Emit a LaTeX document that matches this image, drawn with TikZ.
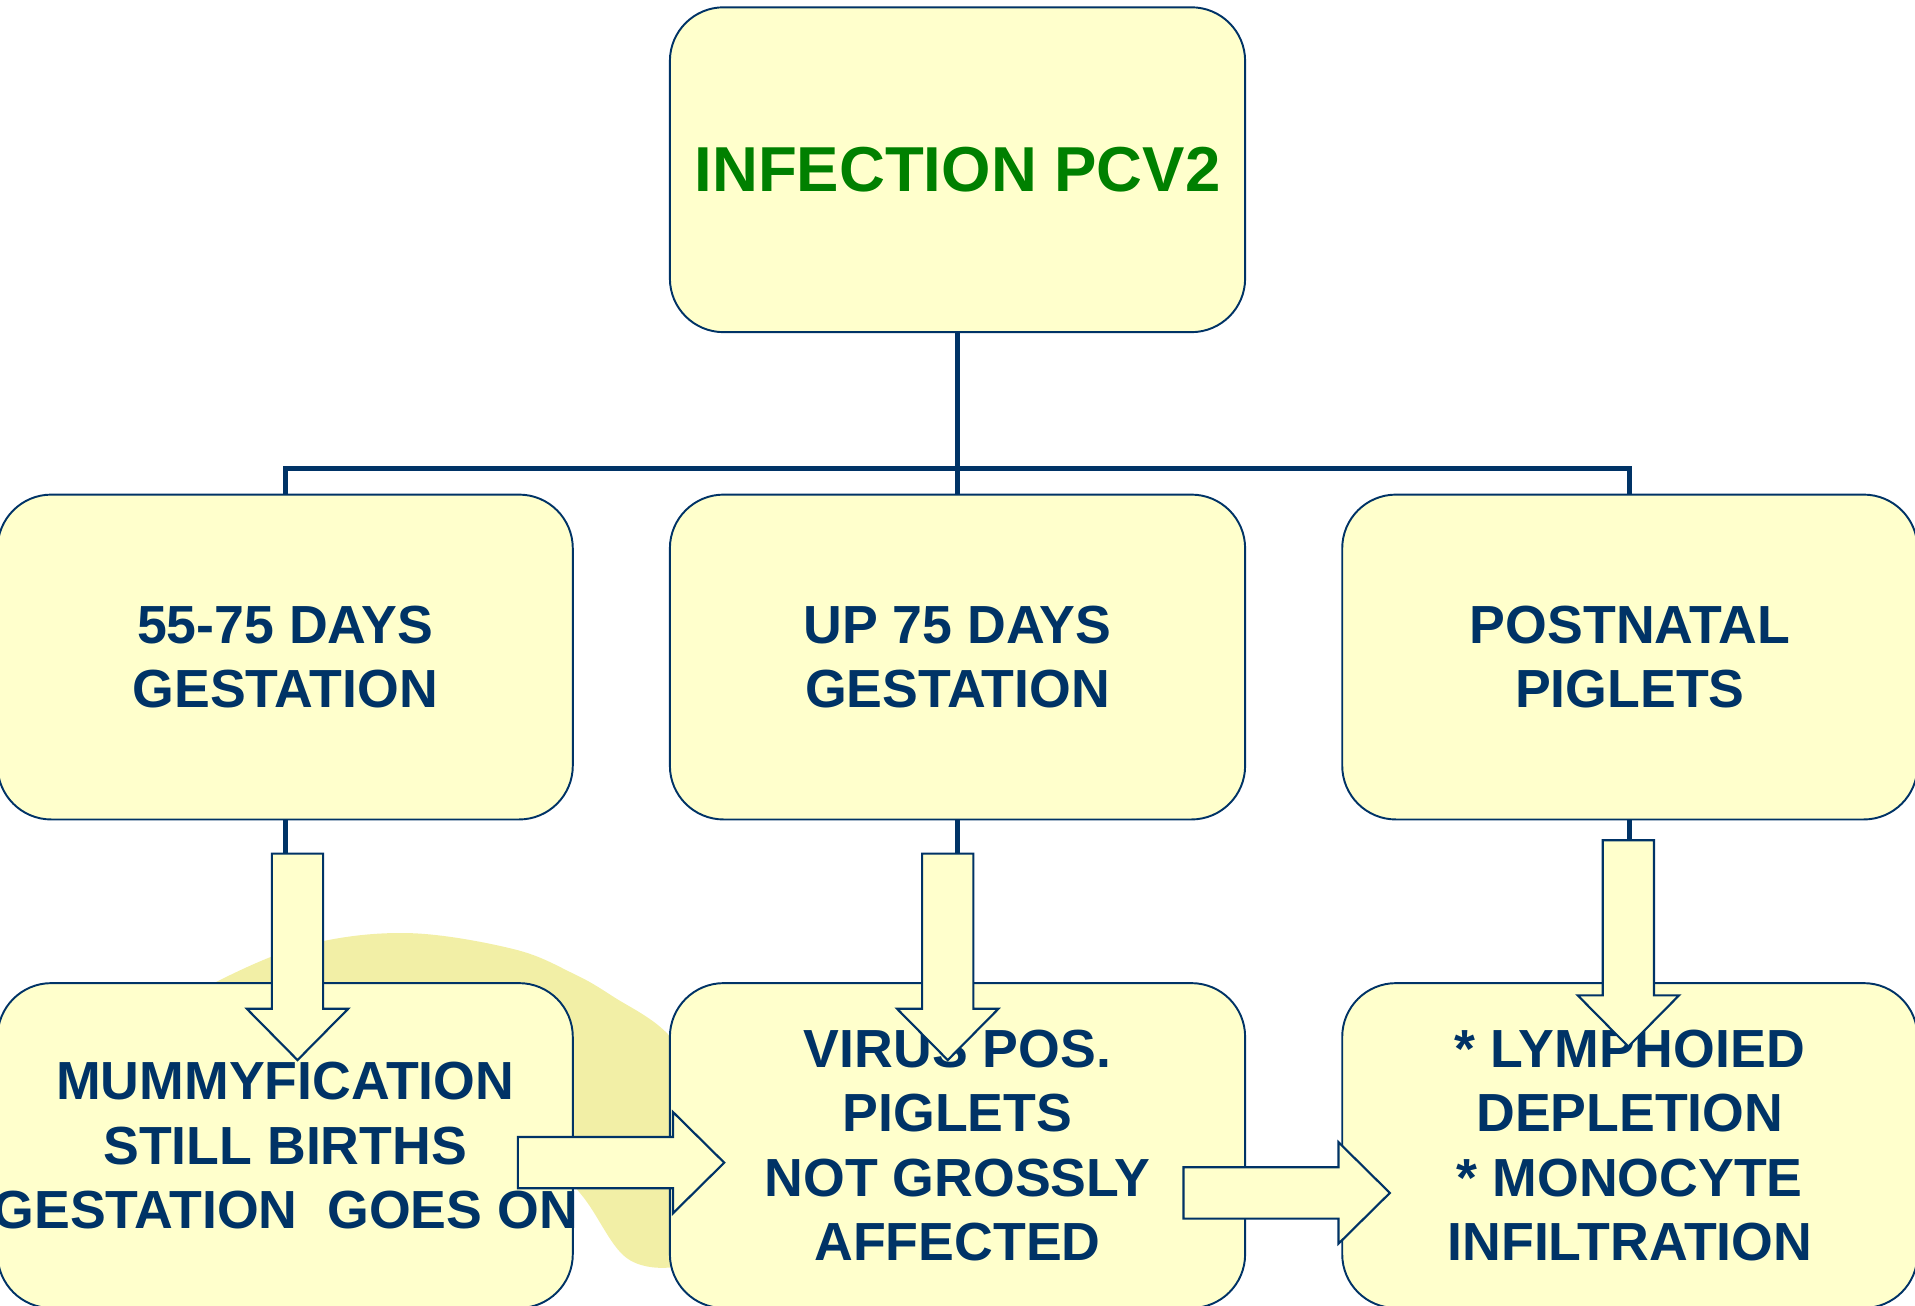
\documentclass[tikz,border=0pt]{standalone}
\usepackage{fontspec}
\setmainfont{Liberation Sans}
\definecolor{navy}{RGB}{0,51,102}
\definecolor{boxfill}{RGB}{255,255,204}
\definecolor{pcvgreen}{RGB}{0,128,0}
\definecolor{swoosh}{RGB}{242,239,166}
\tikzset{
  stage/.style={draw=navy, line width=0.45pt, fill=boxfill, rounded corners=0.44cm,
    minimum width=4.71cm, minimum height=2.66cm, inner sep=0pt, align=center,
    text=navy, font=\fontsize{12.5}{15}\selectfont\bfseries},
  tree/.style={draw=navy, line width=1.2pt},
  blockarrow/.pic={
    \filldraw[fill=boxfill, draw=navy, line width=0.5pt, line join=miter]
      (0,-0.21) -- (1.27,-0.21) -- (1.27,-0.415) -- (1.69,0) -- (1.27,0.415)
      -- (1.27,0.21) -- (0,0.21) -- cycle;
    \coordinate (-tail) at (0,0);
  }
}

\begin{document}
\begin{tikzpicture}
    \useasboundingbox (0,0) rectangle (15.68,10.69);
    \fill[swoosh] plot[smooth cycle, tension=0.6] coordinates {(1.5,2.45) (1.75,2.64)
        (2.5,2.95) (3.33,3.05) (4.2,2.92) (4.69,2.72) (5.02,2.53) (5.49,2.2) (5.85,1.6)
        (5.95,0.8) (5.7,0.37) (5.16,0.37) (4.75,0.92) (4.2,1.5) (3.2,1.9) (2.2,2.0)};
    \node[stage, text=pcvgreen, font=\fontsize{14.8}{18}\selectfont\bfseries] (top) at (7.84,9.30) {INFECTION PCV2};
    \node[stage] (m1) at (2.335,5.31) {55-75 DAYS\\GESTATION};
    \node[stage] (m2) at (7.84,5.31) {UP 75 DAYS\\GESTATION};
    \node[stage] (m3) at (13.345,5.31) {POSTNATAL\\PIGLETS};
    \node[stage] (b1) at (2.335,1.31) {MUMMYFICATION\\STILL BIRTHS\\\makebox[4cm]{GESTATION\ \ GOES ON}};
    \node[stage] (b2) at (7.84,1.31) {VIRUS POS.\\PIGLETS\\NOT GROSSLY\\AFFECTED};
    \node[stage] (b3) at (13.345,1.31) {* LYMPHOIED\\DEPLETION\\* MONOCYTE\\INFILTRATION};
    \draw[tree] (top.south) -- (m2.north);
    \draw[tree] (top.south) -- ++(0,-1.11) -| (m1.north);
    \draw[tree] (top.south) -- ++(0,-1.11) -| (m3.north);
    \coordinate (t1) at (2.436,3.70);
    \coordinate (t2) at (7.76,3.70);
    \coordinate (t3) at (13.333,3.81);
    \draw[tree] (m1.south) -- (m1.south |- t1);
    \draw[tree] (m2.south) -- (m2.south |- t2);
    \draw[tree] (m3.south) -- (m3.south |- t3);
    \pic[rotate=-90] (d1) at (t1) {blockarrow};
    \pic[rotate=-90] (d2) at (t2) {blockarrow};
    \pic[rotate=-90] (d3) at (t3) {blockarrow};
    \pic (r1) at (4.24,1.17) {blockarrow};
    \pic (r2) at (9.69,0.922) {blockarrow};
\end{tikzpicture}
\end{document}
